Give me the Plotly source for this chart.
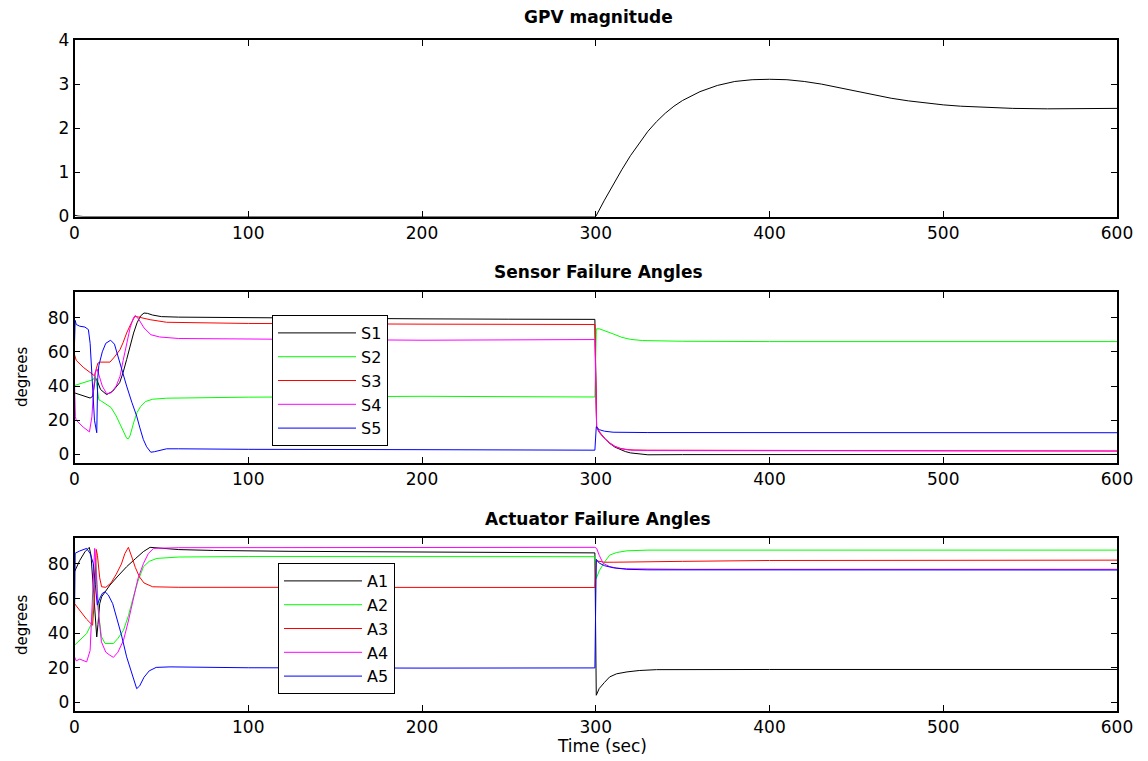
import plotly.graph_objects as go

# ---------------- data ----------------
gpv_t = [0, 2, 5, 300, 305, 310, 315, 320, 325, 330, 335, 340, 345, 350, 360, 370, 380, 390, 400,
         410, 420, 430, 440, 450, 460, 470, 480, 490, 500, 510, 520, 540, 560, 580, 600]
gpv_v = [0.03, 0.01, 0, 0, 0.37, 0.72, 1.06, 1.38, 1.67, 1.93, 2.15, 2.34, 2.50, 2.63, 2.83, 2.97, 3.06, 3.10, 3.11,
         3.10, 3.06, 3.00, 2.92, 2.84, 2.76, 2.68, 2.62, 2.57, 2.53, 2.50, 2.48, 2.45, 2.44, 2.44, 2.45]

s1_t = [0, 3, 6, 9, 10.5, 12, 13.5, 15, 18.5, 22, 26, 28, 30, 32, 34, 36, 38, 40, 42, 45, 50, 60, 100, 150, 200, 250, 299.5,
        300.5, 302, 305, 308, 311, 314, 317, 320, 325, 330, 350, 400, 500, 600]
s1_v = [36, 35, 34, 33, 34, 45, 42, 38, 35, 37, 42, 48, 55.5, 63.5, 71, 77, 81, 82.7, 82.5, 81.5, 80.6, 80.3, 79.9, 79.6, 79.3, 79.1, 79,
        16, 13, 9.5, 6.5, 4.3, 2.8, 1.7, 0.9, 0.2, -0.2, -0.1, 0, 0, 0]

s2_t = [0, 5, 10.8, 12, 13, 14, 15, 18, 21, 24, 27, 29, 30, 31, 32, 34, 36, 38, 41, 45, 53, 100, 200, 299.5,
        300.3, 302, 305, 310, 315, 320, 327, 350, 400, 600]
s2_v = [40.3, 42, 43.8, 46, 38, 32, 31.5, 29.5, 27.5, 22.5, 16, 11.5, 9.5, 9.2, 11, 18.5, 24.5, 28, 31, 32.3, 32.9, 33.5, 34, 33.6,
        73.4, 73.5, 72.5, 70.5, 68.5, 67.3, 66.6, 66.2, 66, 66]

s3_t = [0, 1, 5, 10.5, 11.5, 12.5, 13.5, 15, 17, 20.4, 23, 26.2, 28, 30, 32.5, 34.8, 37, 40, 43.5, 53, 100, 200, 299.5,
        300.5, 302, 305, 308, 311, 314, 318, 322, 330, 400, 600]
s3_v = [58.4, 55, 51, 46.7, 46, 50, 53.5, 54, 54, 54, 57, 61.3, 65.5, 71, 76.5, 80.8, 80.3, 79.5, 78.8, 77.3, 76.6, 76.2, 76,
        16.5, 13.5, 9.5, 6.8, 4.8, 3.6, 2.9, 2.6, 2.5, 2.3, 2]

s4_t = [0, 0.5, 1, 5, 8.6, 10, 11, 12, 13, 14, 16, 18.5, 21, 24, 26.2, 28, 30, 32, 33.9, 35, 37, 40, 44, 49, 60, 100, 200, 299.5,
        300.5, 302, 305, 308, 311, 315, 320, 330, 400, 600]
s4_v = [42, 22, 20, 16, 13.2, 22, 38, 48, 50, 47, 40, 35.5, 36, 40, 45.7, 55, 65.2, 74, 79.8, 81.3, 79, 74, 70, 68.7, 67.8, 67.5, 66.8, 67.2,
        16, 13, 9.3, 6.6, 4.6, 3.2, 2.5, 2.3, 2.2, 2]

s5_t = [0, 0.4, 1, 3, 6, 8, 9, 10, 11.5, 12.8, 13.4, 14, 16, 18, 20.8, 23, 26.2, 28, 30, 33, 35.8, 37.5, 39.6, 41.5, 43.9, 46, 50, 53,
        60, 100, 200, 299.5, 300.3, 302, 305, 310, 330, 400, 600]
s5_v = [65, 78.4, 76, 75, 74.5, 73, 65, 45, 20, 12.7, 45, 52, 60, 65, 66.8, 64.5, 53, 47, 40, 30.5, 22.4, 16, 8.8, 4.5, 1.3, 1.6, 2.8, 3.3,
        3.3, 3, 2.8, 2.5, 16.2, 14.5, 13.6, 13, 12.8, 12.8, 12.7]

a1_t = [0, 3, 6, 8.5, 9.5, 10.5, 11.5, 12.8, 13.5, 14.5, 15.6, 20.4, 25, 30, 35, 39.6, 43.5, 50, 60, 80, 124, 200, 299.5,
        300.3, 302, 305, 308, 312, 318, 325, 335, 400, 600]
a1_v = [75.5, 82, 87, 89.6, 85, 70.7, 55, 37.8, 45, 57, 61, 67.8, 73, 78.4, 83, 87.1, 89.6, 89, 88.3, 87.8, 87.3, 86.9, 86.4,
        4.1, 8, 11.5, 14.7, 16.5, 17.6, 18.4, 18.9, 19, 19]

a2_t = [0, 3, 7, 9.9, 11, 12.2, 13, 14, 15.5, 17.6, 22.4, 25, 28.2, 31, 33.9, 36.5, 39.7, 43, 47.4, 60, 100, 200, 299.5,
        300.3, 302, 305, 308, 312, 318, 330, 600]
a2_v = [33, 36, 39.8, 45.6, 60, 83.2, 70, 50, 38, 34, 34, 37, 41.7, 50, 61, 70, 78.4, 81.5, 83.2, 84, 84.3, 84.2, 84.2,
        71.6, 76, 81, 85.1, 86.6, 87.6, 88, 88]

a3_t = [0, 3, 7, 10.4, 11.5, 12.5, 13.2, 14.5, 15.6, 18, 21, 24, 27, 29, 31, 33, 35, 37.4, 40, 45, 60, 299.5,
        300.3, 305, 310, 350, 400, 600]
a3_v = [57.1, 53, 48, 44.6, 60, 88.4, 85, 72, 66.8, 66.5, 69, 74, 80, 86, 89.6, 84, 78, 72.5, 69, 66.8, 66.5, 66.4,
        81.8, 81, 81, 81.5, 82, 82.2]

a4_t = [0, 1, 3, 7, 9, 10.5, 11.6, 12.5, 13.5, 15.5, 18, 20.4, 22.4, 25, 28.2, 31, 33.9, 36.5, 39.7, 42.5, 45.5, 60, 299.5,
        300.5, 302, 304.3, 308, 312, 317.8, 350, 600]
a4_v = [26.3, 24, 25, 23.4, 30, 60, 89, 75, 55, 35, 29, 27.2, 26, 29, 35.9, 47, 61, 71.5, 80.3, 86, 89, 89.4, 89.6,
        89, 85, 80.3, 78.5, 77.6, 77.2, 76.9, 76.9]

a5_t = [0, 0.4, 3, 7, 9, 10.8, 12, 13.1, 14.5, 16, 17.6, 19.5, 22, 24.3, 27, 30, 32, 33.9, 35.8, 37.5, 40, 43, 47, 55, 100, 200, 299.5,
        300.3, 302, 305, 310, 317.8, 330, 600]
a5_v = [49.4, 86.2, 87.5, 89, 86, 80.3, 68, 56.2, 60, 63, 63.9, 62, 57, 49.4, 39, 26.3, 20, 12.8, 7.9, 9.5, 14.5, 18.2, 20.2, 20.5, 20, 19.8, 19.9,
        82.7, 80.5, 79, 77.8, 76.9, 76.6, 76.5]

sensor_names = ["S1", "S2", "S3", "S4", "S5"]
actuator_names = ["A1", "A2", "A3", "A4", "A5"]
line_colors = ["#000000", "#00ff00", "#ff0000", "#ff00ff", "#0000ff"]
x_ticks = [0, 100, 200, 300, 400, 500, 600]

# ---------------- figure ----------------
OFF = 8                      # page body margin in the browser
W, H = 1148 - OFF, 761 - OFF
FONT = "DejaVu Sans"

def px(x):
    return (x - OFF) / W

def py(y):
    return 1 - (y - OFF) / H

fig = go.Figure()
fig.add_trace(go.Scatter(x=gpv_t, y=gpv_v, mode="lines", line=dict(color="#000000", width=1),
                         showlegend=False, xaxis="x", yaxis="y"))

sensor_series = [(s1_t, s1_v), (s2_t, s2_v), (s3_t, s3_v), (s4_t, s4_v), (s5_t, s5_v)]
for name, (t, v), c in zip(sensor_names, sensor_series, line_colors):
    fig.add_trace(go.Scatter(x=t, y=v, mode="lines", name=name, line=dict(color=c, width=1),
                             xaxis="x2", yaxis="y2", legend="legend"))

act_series = [(a1_t, a1_v), (a2_t, a2_v), (a3_t, a3_v), (a4_t, a4_v), (a5_t, a5_v)]
for name, (t, v), c in zip(actuator_names, act_series, line_colors):
    fig.add_trace(go.Scatter(x=t, y=v, mode="lines", name=name, line=dict(color=c, width=1),
                             xaxis="x3", yaxis="y3", legend="legend2"))

xdom = [px(74.5), px(1117)]
def ydom(top, bottom):
    return [py(bottom), py(top)]

axis_common = dict(showline=True, linecolor="black", linewidth=1.5, mirror="ticks",
                   ticks="inside", ticklen=6, tickcolor="black", tickwidth=1,
                   showgrid=False, zeroline=False, automargin=False,
                   tickfont=dict(family=FONT, size=17, color="black"))

legend_common = dict(xanchor="left", yanchor="top", bordercolor="black", borderwidth=1, bgcolor="white",
                     font=dict(family=FONT, size=16, color="black"), itemwidth=78)

fig.update_layout(
    width=W, height=H,
    margin=dict(l=0, r=0, t=0, b=0, autoexpand=False),
    paper_bgcolor="white", plot_bgcolor="white",
    font=dict(family=FONT, color="black"),
    xaxis=dict(domain=xdom, range=[0, 600], tickvals=x_ticks, anchor="y", **axis_common),
    yaxis=dict(domain=ydom(40, 216.5), range=[0, 4], tickvals=[0, 1, 2, 3, 4], anchor="x", **axis_common),
    xaxis2=dict(domain=xdom, range=[0, 600], tickvals=x_ticks, anchor="y2", **axis_common),
    yaxis2=dict(domain=ydom(292, 463), range=[-5, 95], tickvals=[0, 20, 40, 60, 80], anchor="x2", **axis_common),
    xaxis3=dict(domain=xdom, range=[0, 600], tickvals=x_ticks, anchor="y3", **axis_common),
    yaxis3=dict(domain=ydom(538, 711), range=[-5, 95], tickvals=[0, 20, 40, 60, 80], anchor="x3", **axis_common),
    legend=dict(x=px(272), y=py(315), **legend_common),
    legend2=dict(x=px(278), y=py(563), **legend_common),
)

titles = [("GPV magnitude", 17), ("Sensor Failure Angles", 272), ("Actuator Failure Angles", 519)]
for txt, yc in titles:
    fig.add_annotation(text=f"<b>{txt}</b>", x=px(598), y=py(yc), xref="paper", yref="paper",
                       showarrow=False, xanchor="center", yanchor="middle",
                       font=dict(family=FONT, size=17, color="black"))

for yc in (377, 625):
    fig.add_annotation(text="degrees", x=px(22), y=py(yc), xref="paper", yref="paper",
                       showarrow=False, textangle=-90, xanchor="center", yanchor="middle",
                       font=dict(family=FONT, size=15, color="black"))

fig.add_annotation(text="Time (sec)", x=px(602), y=py(746), xref="paper", yref="paper",
                   showarrow=False, xanchor="center", yanchor="middle",
                   font=dict(family=FONT, size=17, color="black"))

fig.write_html("out.html")
